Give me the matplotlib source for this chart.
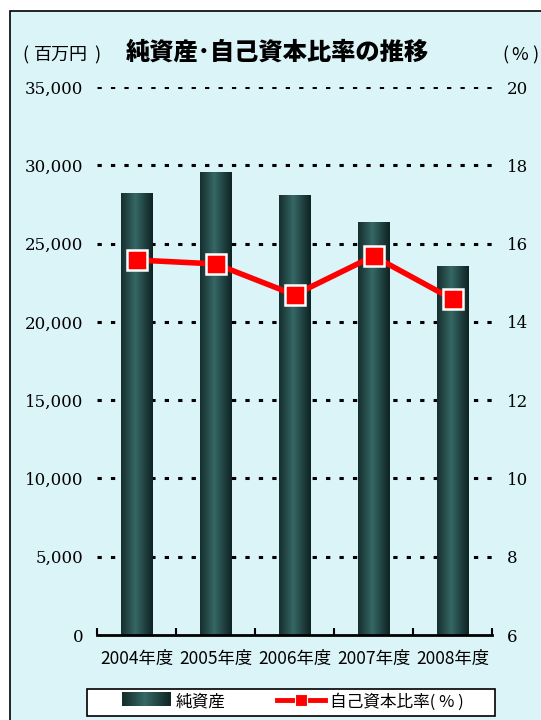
import numpy as np
import matplotlib.pyplot as plt
from matplotlib.patches import Rectangle
from matplotlib.lines import Line2D
from matplotlib.legend_handler import HandlerBase

years = ['2004年度', '2005年度', '2006年度', '2007年度', '2008年度']
net_assets = [28230, 29570, 28100, 26380, 23570]      # 百万円
equity_ratio = [15.58, 15.48, 14.69, 15.68, 14.58]    # %

left_ticks = [0, 5000, 10000, 15000, 20000, 25000, 30000, 35000]
right_ticks = [6, 8, 10, 12, 14, 16, 18, 20]

bg = '#dbf4f8'
jp = ['Noto Sans CJK JP', 'DejaVu Sans']

# cylinder-like shading for the bars
t = np.linspace(0, 1, 64)
shade = np.clip(1 - np.abs(t - 0.45) / 0.6, 0, 1) ** 1.1
dark = np.array([0.05, 0.12, 0.12])
light = np.array([0.21, 0.41, 0.40])
grad = (dark[None, :] + shade[:, None] * (light - dark)[None, :])[None, :, :]

fig = plt.figure(figsize=(5.41, 7.2), dpi=100)
fig.patch.set_facecolor('white')
fig.patches.append(Rectangle((10 / 541, -0.1), 1.2, 1.1 - 11 / 720, transform=fig.transFigure,
                             facecolor=bg, edgecolor='black', lw=1.2, zorder=-5))

ax = fig.add_axes([97 / 541, 1 - 635 / 720, 395 / 541, 548 / 720])
ax.set_facecolor('none')
x = np.arange(len(years))

bars = ax.bar(x, net_assets, width=0.4, color='none', edgecolor='none', zorder=2)
for b in bars:
    im = ax.imshow(grad, extent=[b.get_x(), b.get_x() + b.get_width(), 0, b.get_height()],
                   aspect='auto', zorder=2)
    im.set_clip_path(b)
ax.set_xlim(-0.5, 4.5)
ax.set_ylim(0, 35000)

ax.set_yticks(left_ticks)
ax.set_yticklabels([f'{v:,}' for v in left_ticks], family='DejaVu Serif', fontsize=12)
ax.tick_params(axis='y', length=0, pad=10)
for v in left_ticks[1:]:
    ax.axhline(v, color='black', lw=2.2, ls=(0, (1.4, 3)), zorder=1)

ax.set_xticks(np.arange(-0.5, 5, 1))
ax.set_xticklabels([])
ax.tick_params(axis='x', which='major', direction='in', length=5, width=1.5)
ax.set_xticks(x, minor=True)
ax.set_xticklabels(years, minor=True, family=jp, fontsize=12.5)
ax.tick_params(axis='x', which='minor', length=0, pad=11)

for s in ['top', 'left', 'right']:
    ax.spines[s].set_visible(False)
ax.spines['bottom'].set_linewidth(2)

ax2 = ax.twinx()
ax2.set_ylim(6, 20)
ax2.set_yticks(right_ticks)
ax2.set_yticklabels([str(v) for v in right_ticks], family='DejaVu Serif', fontsize=12)
ax2.tick_params(axis='y', length=0, pad=11)
for s in ['top', 'left', 'right', 'bottom']:
    ax2.spines[s].set_visible(False)
ax2.plot(x, equity_ratio, color='#ff0000', lw=4, marker='s', markersize=15,
         markerfacecolor='#ff0000', markeredgecolor='white', markeredgewidth=1.8, zorder=5)

fig.text(0.5 * (127 + 428) / 541, 1 - 52 / 720, '純資産･自己資本比率の推移', ha='center', va='center',
         family=jp, fontsize=17.5, fontweight='heavy')
hy = 1 - 55 / 720
fig.text(22 / 541, hy, '(', ha='left', va='center', family=jp, fontsize=13)
fig.text(61 / 541, hy, '百万円', ha='center', va='center', family=jp, fontsize=13)
fig.text(100 / 541, hy, ')', ha='right', va='center', family=jp, fontsize=13)
fig.text(502 / 541, hy, '(', ha='left', va='center', family=jp, fontsize=13)
fig.text(520 / 541, hy, '%', ha='center', va='center', family=jp, fontsize=13)
fig.text(538 / 541, hy, ')', ha='right', va='center', family=jp, fontsize=13)


class GradHandler(HandlerBase):
    def create_artists(self, legend, orig, xd, yd, w, h, fontsize, trans):
        out = []
        n = 24
        for i in range(n):
            c = grad[0, int(i / n * 63)]
            out.append(Rectangle((xd + w * i / n, yd), w / n + 0.3, h, facecolor=c,
                                 edgecolor='none', transform=trans))
        return out


# legend frame
fig.patches.append(Rectangle((87 / 541, 1 - 716 / 720), 408 / 541, 27 / 720, transform=fig.transFigure,
                             facecolor='white', edgecolor='black', lw=1.2, zorder=3))

h_bar = Rectangle((0, 0), 1, 1)
h_line = Line2D([], [], color='#ff0000', lw=3.5, marker='s', markersize=8,
                markerfacecolor='#ff0000', markeredgecolor='white', markeredgewidth=0.8)
leg = fig.legend([h_bar, h_line], ['純資産', '自己資本比率( % )'], ncol=2,
                 loc='center', bbox_to_anchor=(0.5 * (114 + 472) / 541, 1 - 702 / 720),
                 handler_map={Rectangle: GradHandler()}, prop={'family': jp, 'size': 12},
                 frameon=False, handlelength=2.9, handleheight=0.9, columnspacing=3.1,
                 handletextpad=0.3, borderpad=0, borderaxespad=0)
leg.set_zorder(4)

fig.savefig('out.png', dpi=100)
